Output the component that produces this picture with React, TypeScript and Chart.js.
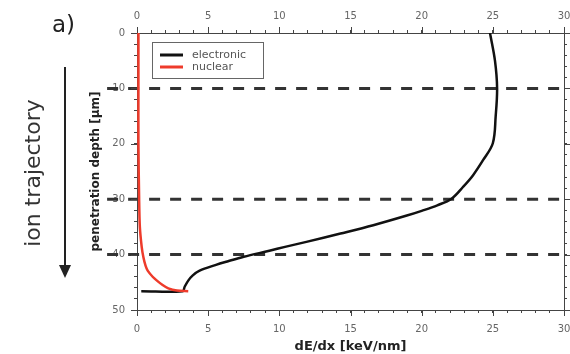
import React, { useEffect, useRef } from "react";
import { Chart, registerables } from "chart.js";

Chart.register(...registerables);

// ---- data ----
const electronicDepth = [0, 5, 10, 15, 19.9, 23.0, 25.7, 27.8, 29.9, 31.1, 32.1, 33.0, 34.7, 36.2, 37.7, 38.6, 39.3, 40.4, 41.2, 41.9, 42.9, 43.8, 44.7, 45.8, 46.6, 46.6];
const electronicDEdx = [24.8, 25.15, 25.3, 25.2, 25.0, 24.3, 23.6, 22.9, 22.1, 21.1, 20.0, 18.9, 16.6, 14.3, 11.9, 10.4, 9.3, 7.5, 6.4, 5.5, 4.4, 3.9, 3.6, 3.35, 3.2, 0.3];
const nuclearDepth = [0, 10, 20, 30, 35, 38.6, 40.5, 42, 42.9, 44, 44.7, 45.5, 46.1, 46.5, 46.6];
const nuclearDEdx = [0.1, 0.1, 0.1, 0.15, 0.2, 0.33, 0.45, 0.6, 0.75, 1.1, 1.4, 1.8, 2.2, 2.8, 3.6];
const markerDepths = [10, 30, 40];
const markerSpan = [-2.1, 30.3];
const seriesLabels = ["electronic", "nuclear"];
const xTickLabels = [0, 5, 10, 15, 20, 25, 30];
const yTickLabels = [0, 10, 20, 30, 40, 50];

const FONT = "DejaVu Sans";
const AXIS_COLOR = "#444";
const TICK_COLOR = "#666";

const majorTicks = {
  id: "majorTicks",
  afterDraw(chart: any) {
    const { ctx, chartArea, scales } = chart;
    const len = 6;
    ctx.save();
    ctx.strokeStyle = AXIS_COLOR;
    ctx.lineWidth = 1;
    ctx.beginPath();
    xTickLabels.forEach((v) => {
      const px = Math.round(scales.x.getPixelForValue(v)) + 0.5;
      ctx.moveTo(px, chartArea.bottom);
      ctx.lineTo(px, chartArea.bottom + len);
      ctx.moveTo(px, chartArea.top);
      ctx.lineTo(px, chartArea.top - len);
    });
    yTickLabels.forEach((v) => {
      const py = Math.round(scales.y.getPixelForValue(v)) + 0.5;
      ctx.moveTo(chartArea.left, py);
      ctx.lineTo(chartArea.left - len, py);
      ctx.moveTo(chartArea.right, py);
      ctx.lineTo(chartArea.right + len, py);
    });
    ctx.stroke();
    ctx.restore();
  },
};

const boxLegend = {
  id: "boxLegend",
  afterDatasetsDraw(chart: any) {
    const { ctx, chartArea } = chart;
    const items = seriesLabels
      .map((l) => chart.data.datasets.find((d: any) => d.label === l))
      .filter(Boolean);
    const x0 = chartArea.left + 15;
    const y0 = chartArea.top + 9;
    const w = 111;
    const h = 36;
    ctx.save();
    ctx.fillStyle = "#fff";
    ctx.fillRect(x0, y0, w, h);
    ctx.strokeStyle = "#666";
    ctx.lineWidth = 1;
    ctx.strokeRect(x0 + 0.5, y0 + 0.5, w, h);
    items.forEach((d: any, i: number) => {
      const y = y0 + 13 + i * 12;
      ctx.strokeStyle = d.borderColor;
      ctx.lineWidth = 3;
      ctx.beginPath();
      ctx.moveTo(x0 + 8, y);
      ctx.lineTo(x0 + 31, y);
      ctx.stroke();
      ctx.fillStyle = "#555";
      ctx.font = `11px "${FONT}"`;
      ctx.textBaseline = "middle";
      ctx.textAlign = "left";
      ctx.fillText(d.label, x0 + 40, y);
    });
    ctx.restore();
  },
};

function pts(xs: number[], ys: number[]) {
  return xs.map((x, i) => ({ x, y: ys[i] }));
}

export default function App() {
  const ref = useRef<HTMLCanvasElement | null>(null);

  useEffect(() => {
    if (!ref.current) return;
    const markerSets = markerDepths.map((d) => ({
      label: "",
      data: markerSpan.map((x) => ({ x, y: d })),
      borderColor: "#333",
      borderWidth: 3,
      borderDash: [11, 10],
      pointRadius: 0,
      showLine: true,
      clip: false as any,
      order: 3,
    }));
    const tickFont = { family: FONT, size: 10 };
    const gridBase = {
      drawOnChartArea: false,
      drawTicks: true,
      tickLength: 3,
      tickColor: AXIS_COLOR,
      tickWidth: 1,
    };
    const border = { display: true, color: AXIS_COLOR, width: 1 };
    const xLabel = (v: any) => (xTickLabels.includes(Number(v)) ? String(v) : "");
    const yLabel = (v: any) => (yTickLabels.includes(Number(v)) ? String(v) : "");
    const noPad = (s: any) => {
      s.paddingLeft = 0;
      s.paddingRight = 0;
      s.paddingTop = 0;
      s.paddingBottom = 0;
    };

    const chart = new Chart(ref.current, {
      type: "scatter",
      data: {
        datasets: [
          {
            label: seriesLabels[0],
            data: pts(electronicDEdx, electronicDepth),
            borderColor: "#111",
            borderWidth: 2.5,
            pointRadius: 0,
            showLine: true,
            tension: 0.35,
            order: 2,
          },
          {
            label: seriesLabels[1],
            data: pts(nuclearDEdx, nuclearDepth),
            borderColor: "#ee3b2b",
            borderWidth: 2.5,
            pointRadius: 0,
            showLine: true,
            tension: 0.3,
            order: 1,
          },
          ...markerSets,
        ] as any,
      },
      options: {
        animation: false,
        responsive: false,
        devicePixelRatio: 1,
        layout: { padding: { left: 84, right: 0, top: 0, bottom: 0 } },
        plugins: { legend: { display: false }, tooltip: { enabled: false } },
        scales: {
          x: {
            type: "linear",
            position: "bottom",
            min: 0,
            max: 30,
            ticks: { stepSize: 1, autoSkip: false, maxRotation: 0, padding: 10, color: TICK_COLOR, font: tickFont, callback: xLabel },
            grid: gridBase,
            border,
            title: { display: true, text: "dE/dx [keV/nm]", color: "#222", font: { family: FONT, size: 13, weight: "bold" }, padding: { top: 0, bottom: 0 } },
            afterFit: (s: any) => { s.height = 44; noPad(s); },
          },
          x2: {
            type: "linear",
            position: "top",
            min: 0,
            max: 30,
            ticks: { stepSize: 1, autoSkip: false, maxRotation: 0, padding: 8, color: TICK_COLOR, font: tickFont, callback: xLabel },
            grid: gridBase,
            border,
            afterFit: (s: any) => { s.height = 33; noPad(s); },
          },
          y: {
            type: "linear",
            position: "left",
            reverse: true,
            min: 0,
            max: 50,
            ticks: { stepSize: 2, autoSkip: false, padding: 9, color: TICK_COLOR, font: tickFont, callback: yLabel },
            grid: gridBase,
            border,
            title: { display: true, text: "penetration depth [µm]", color: "#222", font: { family: FONT, size: 12, weight: "bold" }, padding: { top: 5, bottom: 0 } },
            afterFit: (s: any) => { s.width = 53; noPad(s); },
          },
          y2: {
            type: "linear",
            position: "right",
            reverse: true,
            min: 0,
            max: 50,
            ticks: { stepSize: 2, autoSkip: false, display: false },
            grid: gridBase,
            border,
            afterFit: (s: any) => { s.width = 6; noPad(s); },
          },
        },
      } as any,
      plugins: [majorTicks, boxLegend],
    });
    return () => chart.destroy();
  }, []);

  return (
    <div style={{ position: "absolute", left: 0, top: 0, width: 570, height: 354, background: "#fff", fontFamily: FONT }}>
      <canvas ref={ref} width={570} height={354} style={{ position: "absolute", left: 0, top: 0 }} />
      <div style={{ position: "absolute", left: 52, top: 11, fontSize: 23, lineHeight: "27px", color: "#222" }}>a)</div>
      <div
        style={{
          position: "absolute",
          left: 33,
          top: 173,
          transform: "translate(-50%, -50%) rotate(-90deg)",
          fontSize: 22,
          lineHeight: "24px",
          whiteSpace: "nowrap",
          color: "#333",
        }}
      >
        ion trajectory
      </div>
      <svg width={20} height={220} style={{ position: "absolute", left: 55, top: 62 }}>
        <line x1={10} y1={5} x2={10} y2={206} stroke="#222" strokeWidth={2} />
        <polygon points="4,203 16,203 10,216" fill="#222" />
      </svg>
    </div>
  );
}
